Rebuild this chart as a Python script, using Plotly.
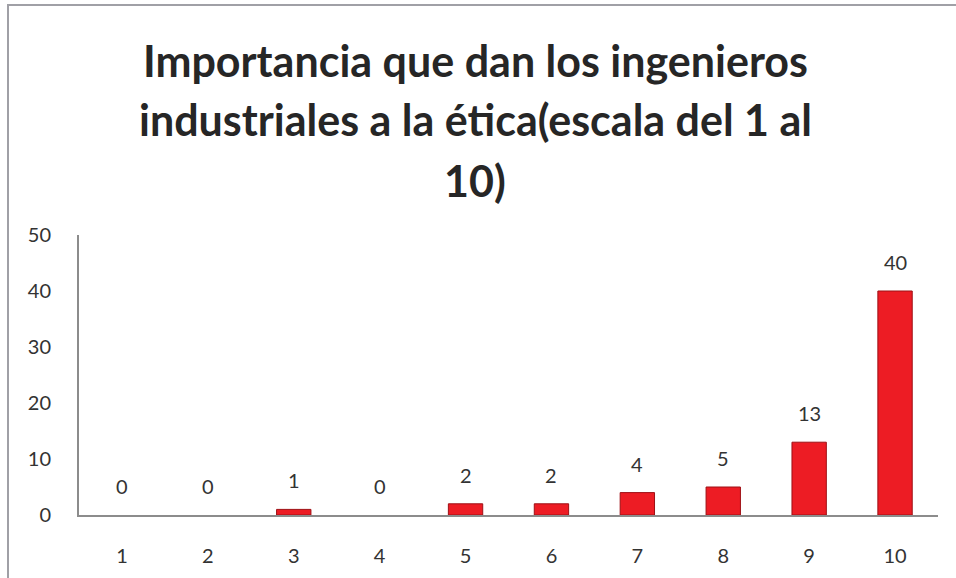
import plotly.graph_objects as go

categories = ["1", "2", "3", "4", "5", "6", "7", "8", "9", "10"]
values = [0, 0, 1, 0, 2, 2, 4, 5, 13, 40]
y_ticks = [0, 10, 20, 30, 40, 50]
title_lines = ["Importancia que dan los ingenieros",
               "industriales a la ética(escala del 1 al",
               "10)"]

FONT = "Lato, 'Open Sans', sans-serif"
W, H = 956, 578
L, R, T, B = 79, 18, 235, 63
PW, PH = W - L - R, H - T - B

fig = go.Figure()
fig.add_trace(go.Bar(
    x=categories, y=values,
    marker=dict(color="#ED1C24",
                line=dict(color="#9E1015", width=[0 if v == 0 else 1 for v in values])),
    width=0.4,
    hoverinfo="x+y",
))

annotations = []
for i, v in enumerate(values):
    annotations.append(dict(x=i, y=v, xref="x", yref="y", text=str(v),
                            showarrow=False, yanchor="bottom", yshift=15,
                            font=dict(family=FONT, size=20, color="#333333")))

def py2paper(py):
    return (H - B - py) / PH

for i, line in enumerate(title_lines):
    annotations.append(dict(x=(475 - L) / PW, y=py2paper(60 + 60 * i), xref="paper", yref="paper",
                            text="<b>" + line + "</b>", showarrow=False,
                            xanchor="center", yanchor="middle",
                            font=dict(family=FONT, size=43, color="#262626")))

fig.update_layout(
    width=W, height=H,
    margin=dict(l=L, r=R, t=T, b=B, autoexpand=False),
    paper_bgcolor="white", plot_bgcolor="white",
    showlegend=False,
    annotations=annotations,
    shapes=[dict(type="rect", xref="paper", yref="paper",
                 x0=(8 - L) / PW, x1=(W + 20 - L) / PW,
                 y0=py2paper(H + 20), y1=py2paper(5),
                 line=dict(color="#A0A0A6", width=2), fillcolor="rgba(0,0,0,0)",
                 layer="below")],
    bargap=0.6,
)
fig.update_xaxes(type="category", range=[-0.5, len(categories) - 0.5],
                 showline=True, linecolor="#8C8C8C", linewidth=2, showgrid=False,
                 ticks="", tickfont=dict(family=FONT, size=20, color="#333333"),
                 ticklabelstandoff=22, fixedrange=True)
fig.update_yaxes(range=[0, 50], tickvals=y_ticks, showline=True, linecolor="#8C8C8C",
                 linewidth=2, showgrid=False, zeroline=False, ticks="",
                 tickfont=dict(family=FONT, size=20, color="#333333"),
                 ticklabelstandoff=22, fixedrange=True)

fig.write_html("out.html", config={"displayModeBar": False},
               post_script="document.body.style.margin='0';document.body.style.overflow='hidden';")
